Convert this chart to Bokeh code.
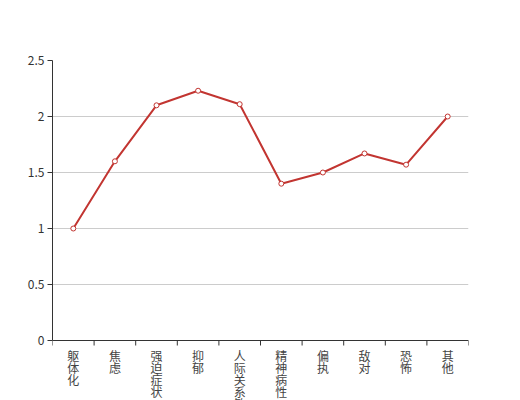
import math
from bokeh.plotting import figure
from bokeh.models import ColumnDataSource, Range1d, FixedTicker
from bokeh.core.properties import value
from bokeh.embed import file_html
from bokeh.resources import INLINE

categories = ["躯体化", "焦虑", "强迫症状", "抑郁", "人际关系敏感", "精神病性", "偏执", "敌对", "恐怖", "其他"]
values = [1.0, 1.6, 2.1, 2.23, 2.11, 1.4, 1.5, 1.67, 1.57, 2.0]
y_ticks = [0, 0.5, 1, 1.5, 2, 2.5]

RED = "#c23531"
FONT = "Noto Sans CJK SC"
AXIS = "#333333"

n = len(categories)
xs = [i + 0.5 for i in range(n)]
src = ColumnDataSource(dict(x=xs, y=values))
lab_src = ColumnDataSource(dict(x=xs, y=[0] * n, text=["\n".join(c) for c in categories]))
tick_src = ColumnDataSource(dict(x=list(range(n + 1)), y=[0] * (n + 1)))

W, H = 520, 400
top, bottom_axis = 60, 340          # pixel rows of y=2.5 and y=0
px_per_unit = (bottom_axis - top) / 2.5
y_min = -(H - bottom_axis) / px_per_unit

p = figure(width=W, height=H, output_backend="svg", toolbar_location=None,
           x_range=Range1d(0, n), y_range=Range1d(y_min, 2.5),
           min_border_left=52, min_border_right=52, min_border_top=top, min_border_bottom=0)
p.outline_line_color = None
p.background_fill_color = "white"
p.border_fill_color = "white"

p.xaxis.visible = False
p.xgrid.visible = False
p.ygrid.grid_line_color = "#cccccc"
p.ygrid.ticker = FixedTicker(ticks=y_ticks)

p.yaxis.ticker = FixedTicker(ticks=y_ticks)
p.yaxis.bounds = (0, 2.5)
p.yaxis.major_label_overrides = {0: "0", 0.5: "0.5", 1: "1", 1.5: "1.5", 2: "2", 2.5: "2.5"}
p.yaxis.axis_line_color = AXIS
p.yaxis.major_tick_line_color = AXIS
p.yaxis.major_tick_out = 5
p.yaxis.major_tick_in = 0
p.yaxis.minor_tick_line_color = None
p.yaxis.major_label_text_font = FONT
p.yaxis.major_label_text_font_size = "12px"
p.yaxis.major_label_text_color = AXIS
p.yaxis.major_label_standoff = 3

# category axis line at y = 0 with boundary ticks
p.segment(x0=0, y0=0, x1=n, y1=0, line_color=AXIS, line_width=1)
p.ray(x="x", y="y", source=tick_src, length=5, length_units="screen",
      angle=-math.pi / 2, line_color=AXIS, line_width=1)

p.text(x="x", y="y", text="text", source=lab_src, y_offset=6,
       text_align="center", text_baseline="top",
       text_font=value(FONT), text_font_size="12px", text_color="#444444",
       text_line_height=0.72)

p.line("x", "y", source=src, line_color=RED, line_width=2)
p.scatter("x", "y", source=src, size=5, marker="circle", fill_color="white",
          line_color=RED, line_width=1)

open("out.html", "w").write(file_html(p, INLINE))
